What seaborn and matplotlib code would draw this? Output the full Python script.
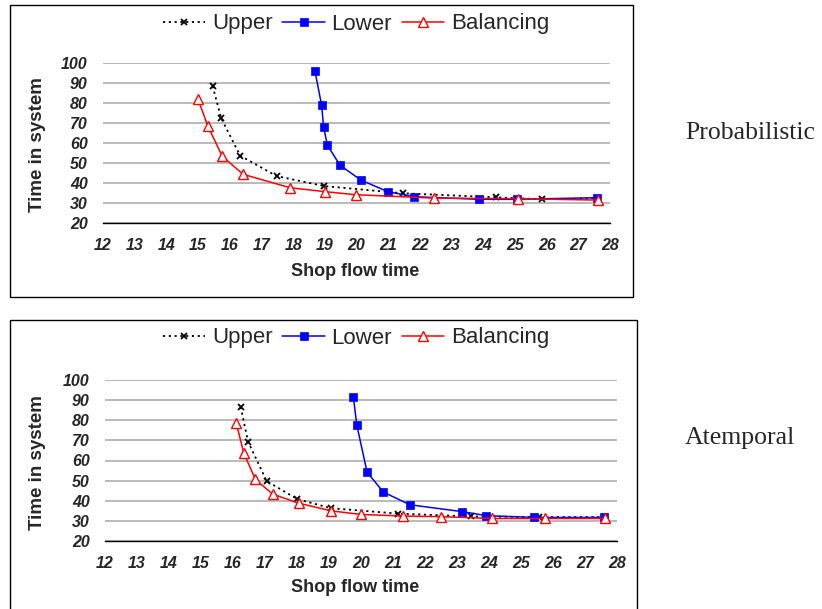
import numpy as np
import pandas as pd
import matplotlib
matplotlib.use("Agg")
import matplotlib.pyplot as plt
from matplotlib.patches import Rectangle
import seaborn as sns

# Probabilistic panel
prob_upper_x = [15.46, 15.73, 16.33, 17.48, 18.99, 21.47, 24.4, 25.84, 27.6]
prob_upper_y = [88.3, 72.2, 53.5, 43.3, 38.3, 34.7, 32.7, 31.7, 32.2]
prob_lower_x = [18.69, 18.9, 18.96, 19.08, 19.48, 20.14, 20.99, 21.81, 23.86, 25.05, 27.6]
prob_lower_y = [95.7, 78.7, 68.0, 58.8, 48.7, 41.3, 35.5, 33.0, 31.7, 31.7, 32.5]
prob_bal_x = [15.0, 15.31, 15.76, 16.42, 17.9, 19.02, 19.97, 22.44, 25.09, 27.63]
prob_bal_y = [81.7, 68.3, 53.3, 44.2, 37.5, 35.5, 34.0, 32.3, 32.0, 31.3]

# Atemporal panel
atem_upper_x = [16.24, 16.47, 17.05, 18.01, 19.06, 21.16, 23.43, 25.55, 27.62]
atem_upper_y = [86.6, 69.4, 49.8, 40.8, 36.3, 33.6, 32.2, 31.9, 31.9]
atem_lower_x = [19.76, 19.87, 20.19, 20.7, 21.53, 23.16, 23.92, 25.4, 27.59]
atem_lower_y = [91.7, 77.5, 54.2, 44.3, 38.0, 34.6, 32.6, 31.7, 31.7]
atem_bal_x = [16.1, 16.34, 16.7, 17.24, 18.05, 19.06, 19.99, 21.32, 22.49, 24.09, 25.76, 27.64]
atem_bal_y = [78.7, 63.5, 50.6, 43.3, 38.8, 35.0, 33.2, 32.4, 32.1, 31.2, 31.2, 31.2]

series_names = ["Upper", "Lower", "Balancing"]
x_ticks = list(range(12, 29))
y_ticks = list(range(20, 101, 10))
panel_names = ["Probabilistic", "Atemporal"]

sns.set_style("white")
plt.rcParams['font.family'] = ['Liberation Sans', 'DejaVu Sans']

fig = plt.figure(figsize=(8.22, 6.09), dpi=100)
W, H = 822, 609


def fx(px):
    return px / W


def fy(py):
    return 1 - py / H


styles = {
    "Upper": dict(color="black", linestyle=(0, (1.2, 2.0)), marker="x", markersize=4.5,
                  markeredgecolor="black", markeredgewidth=1.3, linewidth=1.3),
    "Lower": dict(color="#0000ff", linestyle="-", marker="s", markersize=6,
                  markeredgecolor="#0000ff", markeredgewidth=0.5, linewidth=1.1),
    "Balancing": dict(color="#ff0000", linestyle="-", marker="^", markersize=6.5,
                      markerfacecolor="white", markeredgecolor="#ff0000",
                      markeredgewidth=1.0, linewidth=1.1),
}


def draw_panel(rect_px, box_px, data, label_text, label_y, legend_y, xlabel_y):
    left, right, top, bottom = rect_px
    ax = fig.add_axes([fx(left), fy(bottom), fx(right - left), (bottom - top) / H])
    for name, (xs, ys) in zip(series_names, data):
        df = pd.DataFrame({"x": xs, "y": ys})
        sns.lineplot(data=df, x="x", y="y", ax=ax, sort=False, estimator=None,
                     label=name, **styles[name])
    ax.set_xlim(12, 28)
    ax.set_ylim(20, 100)
    ax.set_xticks(x_ticks)
    ax.set_yticks(y_ticks)
    ax.set_xticklabels([str(t) for t in x_ticks], fontsize=11.5, fontweight="bold",
                       fontstyle="italic")
    ax.set_yticklabels([str(t) for t in y_ticks], fontsize=11.5, fontweight="bold",
                       fontstyle="italic")
    ax.yaxis.grid(True, color="#b4b4b4", linewidth=1.3)
    ax.set_axisbelow(True)
    for s in ["top", "right", "left"]:
        ax.spines[s].set_visible(False)
    ax.spines["bottom"].set_color("black")
    ax.spines["bottom"].set_linewidth(1.0)
    ax.tick_params(axis="x", direction="out", length=5, width=1, color="black", pad=6)
    ax.tick_params(axis="y", length=0, pad=11)
    ax.set_xlabel("")
    ax.set_ylabel("")
    fig.text(fx(37), (fy(bottom) + fy(top)) / 2 - 0.003, "Time in system", fontsize=13.5,
             fontweight="bold", rotation=90, ha="center", va="center")
    fig.text(fx(355), fy(xlabel_y), "Shop flow time", fontsize=13, fontweight="bold",
             ha="center", va="center")
    h, l = ax.get_legend_handles_labels()
    ax.legend_.remove()
    fig.legend(h, l, loc="center", ncol=3, frameon=False, fontsize=16,
               bbox_to_anchor=(fx(356), fy(legend_y)), handlelength=1.9,
               handletextpad=0.3, columnspacing=0.45)
    bl, br, bt, bb = box_px
    fig.add_artist(Rectangle((fx(bl), fy(bb)), fx(br - bl), (bb - bt) / H,
                             transform=fig.transFigure, fill=False,
                             edgecolor="black", linewidth=1.0))
    fig.text(fx(685), fy(label_y), label_text, fontsize=18.5,
             family=["Liberation Serif"], ha="left", va="center")
    return ax


draw_panel((103, 610, 62.7, 222.7), (10, 633, 5, 297),
           [(prob_upper_x, prob_upper_y), (prob_lower_x, prob_lower_y),
            (prob_bal_x, prob_bal_y)],
           panel_names[0], 133, 24, 271)
draw_panel((105, 617, 380, 541), (10, 637, 320, 612),
           [(atem_upper_x, atem_upper_y), (atem_lower_x, atem_lower_y),
            (atem_bal_x, atem_bal_y)],
           panel_names[1], 438, 338, 587)

fig.savefig("out.png", dpi=100)
